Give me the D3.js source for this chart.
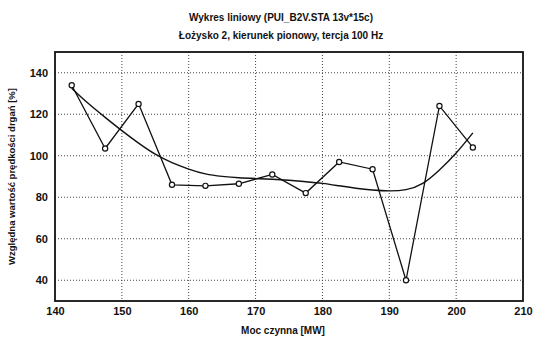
<!DOCTYPE html>
<html>
<head>
<meta charset="utf-8">
<script src="https://cdn.jsdelivr.net/npm/d3@7"></script>
<style>
  body { margin: 0; background: #fff; }
  svg text { font-family: "Liberation Sans", Arial, sans-serif; fill: #111; }
</style>
</head>
<body>
<div id="chart"></div>
<script>
// measured values (Moc czynna [MW] vs relative vibration velocity [%])
const power = [142.5, 147.5, 152.5, 157.5, 162.5, 167.5, 172.5, 177.5, 182.5, 187.5, 192.5, 197.5, 202.5];
const vibration = [134, 103.5, 125, 86, 85.5, 86.5, 91, 82, 97, 93.5, 40, 124, 104];

// fitted curve
const fitX = [142.5, 145, 147.5, 150, 152.5, 155, 157.5, 160, 162.5, 165, 167.5, 170, 172.5, 175, 177.5, 180, 182.5, 185, 187.5, 190, 192.5, 195, 197.5, 200, 202.5];
const fitY = [132.5, 125, 118.5, 112, 106, 100.5, 96.5, 93.5, 91, 90, 89.3, 89, 88.7, 88.2, 87.5, 86.8, 85.5, 84.3, 83.4, 82.9, 83.3, 86, 93, 101, 111];

const xTicks = [140, 150, 160, 170, 180, 190, 200, 210];
const yTicks = [40, 60, 80, 100, 120, 140];

const W = 534, H = 338;
const m = { top: 52, right: 11, bottom: 37, left: 55 };

const svg = d3.select("#chart").append("svg")
  .attr("width", W).attr("height", H);

const x = d3.scaleLinear().domain([140, 210]).range([m.left, W - m.right]);
const y = d3.scaleLinear().domain([30, 150]).range([H - m.bottom, m.top]);

// titles
svg.append("text")
  .attr("x", 281).attr("y", 21)
  .attr("text-anchor", "middle")
  .style("font-size", "10px").style("font-weight", "bold")
  .text("Wykres liniowy (PUI_B2V.STA 13v*15c)");
svg.append("text")
  .attr("x", 281).attr("y", 39)
  .attr("text-anchor", "middle")
  .style("font-size", "10px").style("font-weight", "bold")
  .text("Łożysko 2, kierunek pionowy, tercja 100 Hz");

// grid
const grid = svg.append("g")
  .attr("stroke", "#444").attr("stroke-width", 1)
  .attr("stroke-dasharray", "1,2");
grid.selectAll(".gx").data(xTicks.slice(1, -1)).enter().append("line")
  .attr("x1", d => x(d)).attr("x2", d => x(d))
  .attr("y1", y(150)).attr("y2", y(30));
grid.selectAll(".gy").data(yTicks).enter().append("line")
  .attr("y1", d => y(d)).attr("y2", d => y(d))
  .attr("x1", x(140)).attr("x2", x(210));

// axes (labels only)
const xAxis = svg.append("g")
  .attr("transform", `translate(0,${H - m.bottom})`)
  .call(d3.axisBottom(x).tickValues(xTicks).tickSize(0).tickPadding(6));
const yAxis = svg.append("g")
  .attr("transform", `translate(${m.left},0)`)
  .call(d3.axisLeft(y).tickValues(yTicks).tickSize(0).tickPadding(7));
[xAxis, yAxis].forEach(a => {
  a.select(".domain").remove();
  a.selectAll("text")
    .style("font-family", "'Liberation Sans', Arial, sans-serif")
    .style("font-size", "11px").style("font-weight", "bold").attr("fill", "#111");
});

// axis titles
svg.append("text")
  .attr("x", 283).attr("y", 334)
  .attr("text-anchor", "middle")
  .style("font-size", "10px").style("font-weight", "bold")
  .text("Moc czynna [MW]");
svg.append("text")
  .attr("transform", `translate(15,${(y(30) + y(150)) / 2}) rotate(-90)`)
  .attr("text-anchor", "middle")
  .style("font-size", "9.5px").style("font-weight", "bold")
  .text("Względna wartość prędkości drgań [%]");

// frame
svg.append("rect")
  .attr("x", x(140)).attr("y", y(150))
  .attr("width", x(210) - x(140)).attr("height", y(30) - y(150))
  .attr("fill", "none").attr("stroke", "#111").attr("stroke-width", 1.8);

// fitted curve
const fit = fitX.map((d, i) => [d, fitY[i]]);
svg.append("path")
  .datum(fit)
  .attr("fill", "none").attr("stroke", "#111").attr("stroke-width", 1.4)
  .attr("d", d3.line().x(d => x(d[0])).y(d => y(d[1])).curve(d3.curveBasis));

// data line
const pts = power.map((d, i) => [d, vibration[i]]);
svg.append("path")
  .datum(pts)
  .attr("fill", "none").attr("stroke", "#111").attr("stroke-width", 1.3)
  .attr("d", d3.line().x(d => x(d[0])).y(d => y(d[1])));

svg.selectAll(".pt").data(pts).enter().append("circle")
  .attr("cx", d => x(d[0])).attr("cy", d => y(d[1]))
  .attr("r", 2.6)
  .attr("fill", "#fff").attr("stroke", "#111").attr("stroke-width", 1.2);
</script>
</body>
</html>
